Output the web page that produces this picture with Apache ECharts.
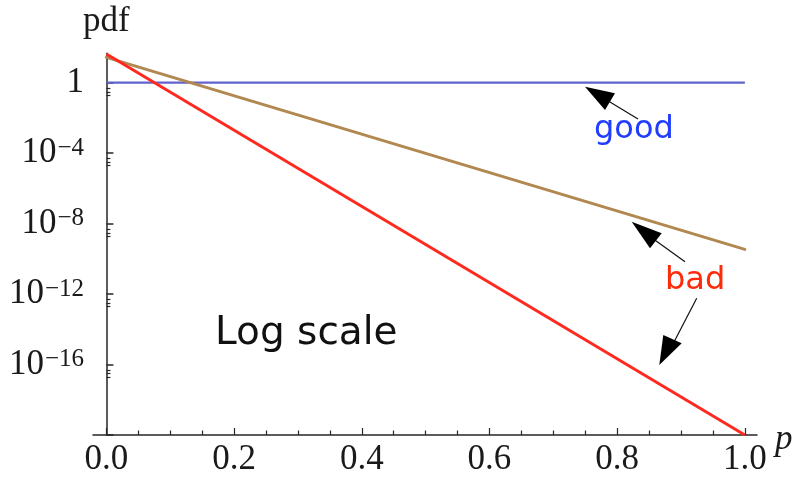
<!DOCTYPE html>
<html>
<head>
<meta charset="utf-8">
<script src="https://cdn.jsdelivr.net/npm/echarts@6/dist/echarts.min.js"></script>
<style>
  html, body { margin: 0; padding: 0; background: #fff; }
  #chart { width: 803px; height: 478px; }
</style>
</head>
<body>
<div id="chart"></div>
<script>
// p values and densities (straight lines on a log axis, so end points suffice)
const pValues = [0, 1];
const goodPdf = [1, 1];
const badSlowPdf = [27, 3.4e-10];
const badFastPdf = [42, 1e-20];

// axis ticks
const xMajorTicks = [0, 0.2, 0.4, 0.6, 0.8, 1.0];
const xMinorTicks = [0.05, 0.1, 0.15, 0.25, 0.3, 0.35, 0.45, 0.5, 0.55, 0.65, 0.7, 0.75, 0.85, 0.9, 0.95];
const yMajorTicks = [1e-20, 1e-16, 1e-12, 1e-8, 1e-4, 1];
const yLabelTicks = [1e-16, 1e-12, 1e-8, 1e-4, 1];
const yMinorTicks = [];
yMajorTicks.slice(1).forEach(function (t) {
  [0.5, 0.3, 0.2].forEach(function (m) { yMinorTicks.push(t * m); });
});

function pairs(xs, ys) { return xs.map(function (x, i) { return [x, ys[i]]; }); }

const serif = 'Liberation Serif';
const sans = 'DejaVu Sans';
const axisColor = '#262626';
const textColor = '#1a1a1a';

const chart = echarts.init(document.getElementById('chart'), null, { renderer: 'canvas' });

chart.setOption({
  animation: false,
  backgroundColor: '#ffffff',
  grid: { left: 93, right: 46, top: 53.3, bottom: 43, containLabel: false },
  xAxis: [{
    type: 'value',
    position: 'bottom',
    min: -0.021,
    max: 1.019,
    name: 'p',
    nameLocation: 'end',
    nameGap: 18,
    nameTextStyle: { fontFamily: serif, fontStyle: 'italic', fontSize: 35, color: textColor, verticalAlign: 'top', align: 'left', lineHeight: 9 },
    axisLine: { onZero: false, lineStyle: { color: axisColor, width: 1.5 } },
    axisTick: { inside: true, length: 7, customValues: xMajorTicks, lineStyle: { color: axisColor, width: 1.2 } },
    axisLabel: {
      customValues: xMajorTicks,
      margin: 7,
      fontFamily: serif, fontSize: 35, color: textColor,
      formatter: function (v) { return v.toFixed(1); }
    },
    splitLine: { show: false }
  }, {
    type: 'value',
    position: 'bottom',
    min: -0.021,
    max: 1.019,
    axisLine: { show: false, onZero: false },
    axisTick: { inside: true, length: 4.5, customValues: xMinorTicks, lineStyle: { color: axisColor, width: 1.2 } },
    axisLabel: { show: false },
    splitLine: { show: false }
  }],
  yAxis: [{
    type: 'log',
    logBase: 10,
    min: 1e-20,
    max: 46,
    name: 'pdf',
    nameLocation: 'end',
    nameGap: 14,
    nameTextStyle: { fontFamily: serif, fontSize: 35, color: textColor, align: 'center', verticalAlign: 'bottom' },
    axisLine: { onZero: true, lineStyle: { color: axisColor, width: 1.5 } },
    axisTick: { inside: true, length: 7, customValues: yMajorTicks, lineStyle: { color: axisColor, width: 1.5 } },
    axisLabel: {
      customValues: yLabelTicks,
      margin: 9,
      fontFamily: serif, fontSize: 35, color: textColor,
      formatter: function (v) {
        const e = Math.round(Math.log10(v));
        if (e === 0) return '1';
        return '10{sup|\u2212' + Math.abs(e) + '}';
      },
      rich: {
        sup: { fontFamily: serif, fontSize: 25, color: textColor, verticalAlign: 'top', lineHeight: 22, padding: [0, 0, 0, 1] }
      }
    },
    splitLine: { show: false }
  }, {
    type: 'log',
    logBase: 10,
    min: 1e-20,
    max: 46,
    position: 'left',
    axisLine: { show: false, onZero: true },
    axisTick: { inside: true, length: 4, customValues: yMinorTicks, lineStyle: { color: axisColor, width: 1.2 } },
    axisLabel: { show: false },
    splitLine: { show: false }
  }],
  series: [{
    name: 'good',
    type: 'line',
    data: pairs(pValues, goodPdf),
    showSymbol: false,
    lineStyle: { color: '#6262cc', width: 2.2 },
    z: 2
  }, {
    name: 'bad (slow decay)',
    type: 'line',
    data: pairs(pValues, badSlowPdf),
    showSymbol: false,
    lineStyle: { color: '#b08850', width: 3, cap: 'round' },
    z: 3
  }, {
    name: 'bad (fast decay)',
    type: 'line',
    data: pairs(pValues, badFastPdf),
    showSymbol: false,
    lineStyle: { color: '#ff2a1f', width: 3 },
    z: 4
  }],
  graphic: [
    // annotations
    { type: 'text', style: { text: 'good', x: 594, y: 130, fontFamily: sans, fontSize: 32, fill: '#1f3cff', verticalAlign: 'middle' } },
    { type: 'text', style: { text: 'bad', x: 665, y: 281, fontFamily: sans, fontSize: 32, fill: '#ff2a0a', verticalAlign: 'middle' } },
    { type: 'text', style: { text: 'Log scale', x: 215, y: 334, fontFamily: sans, fontSize: 39, fill: '#111', verticalAlign: 'middle' } },
    // arrow to the "good" line
    { type: 'line', shape: { x1: 638, y1: 119, x2: 605, y2: 99 }, style: { stroke: '#111', lineWidth: 1.2 } },
    { type: 'polygon', shape: { points: [[585, 86.7], [615, 93.3], [605, 110]] }, style: { fill: '#000' } },
    // arrows from "bad" to the two decaying lines
    { type: 'line', shape: { x1: 685, y1: 261.7, x2: 652, y2: 238 }, style: { stroke: '#111', lineWidth: 1.2 } },
    { type: 'polygon', shape: { points: [[631.7, 221.7], [661.7, 233.3], [650, 248.3]] }, style: { fill: '#000' } },
    { type: 'line', shape: { x1: 696.7, y1: 298.3, x2: 674, y2: 342 }, style: { stroke: '#111', lineWidth: 1.2 } },
    { type: 'polygon', shape: { points: [[659.3, 365], [681.7, 343.3], [663.3, 335]] }, style: { fill: '#000' } }
  ]
});
</script>
</body>
</html>
